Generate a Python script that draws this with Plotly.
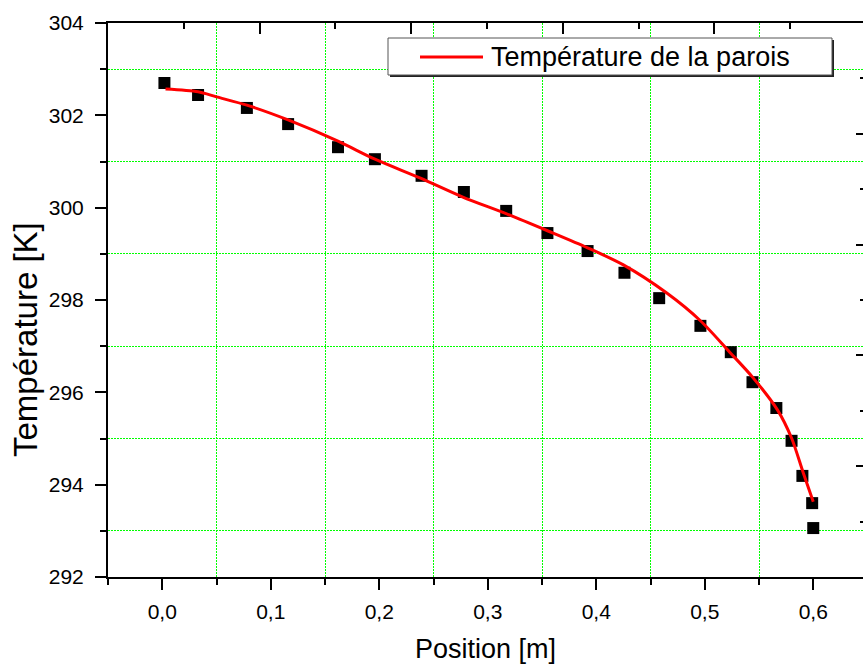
import plotly.graph_objects as go

# Measured wall temperature (squares)
pos_mesure = [0.002, 0.033, 0.078, 0.116, 0.162, 0.196, 0.239, 0.278, 0.317, 0.355,
              0.392, 0.426, 0.458, 0.496, 0.524, 0.544, 0.566, 0.580, 0.590, 0.599, 0.600]
temp_mesure = [302.70, 302.44, 302.16, 301.81, 301.31, 301.05, 300.69, 300.34, 299.93, 299.45,
               299.06, 298.59, 298.04, 297.44, 296.87, 296.22, 295.66, 294.95, 294.19, 293.60, 293.06]

# Computed wall temperature (red curve)
pos_paroi = [0.003, 0.033, 0.050, 0.078, 0.116, 0.162, 0.196, 0.238, 0.277, 0.318, 0.355,
             0.392, 0.425, 0.465, 0.496, 0.523, 0.544, 0.567, 0.580, 0.5906, 0.600]
temp_paroi = [302.57, 302.51, 302.40, 302.22, 301.90, 301.44, 301.05, 300.64, 300.23, 299.86, 299.50,
              299.13, 298.76, 298.15, 297.55, 296.87, 296.33, 295.62, 295.01, 294.27, 293.63]

legend_label = "Température de la parois"
x_title = "Position [m]"
y_title = "Température [K]"

W, H = 863, 664
ML, MR, MT, MB = 108, 0, 23, 87
PW, PH = W - ML - MR, H - MT - MB


def px(xp):
    return (xp - ML) / PW


def py(yp):
    return (H - MB - yp) / PH


FONT = "Liberation Sans, Arial, sans-serif"
GRID = "rgb(0,255,0)"
GRID_DASH = "2px,1px"

fig = go.Figure()

fig.add_trace(go.Scatter(
    x=pos_mesure, y=temp_mesure, mode="markers",
    marker=dict(symbol="square", size=12, color="black", line=dict(width=0)),
    showlegend=False,
))
fig.add_trace(go.Scatter(
    x=pos_paroi, y=temp_paroi, mode="lines",
    line=dict(color="#ff0000", width=3, shape="spline", smoothing=0.8),
    name=legend_label, showlegend=False,
))
# empty trace so the top/right frame axes get drawn
fig.add_trace(go.Scatter(x=[], y=[], xaxis="x2", yaxis="y2", showlegend=False))

axis_common = dict(
    showline=True, linecolor="black", linewidth=2,
    tickcolor="black", tickwidth=2, zeroline=False, showgrid=False,
)

fig.update_layout(
    width=W, height=H,
    margin=dict(l=ML, r=MR, t=MT, b=MB, pad=0),
    paper_bgcolor="white", plot_bgcolor="white",
    separators=", ",
    font=dict(family=FONT, color="black"),
    xaxis=dict(
        **axis_common,
        range=[-0.05, -0.05 + PW / 1085.0],
        tickmode="linear", tick0=0, dtick=0.1, tickformat=".1f",
        ticks="outside", ticklen=11,
        tickfont=dict(size=21, family=FONT),
        ticklabelstandoff=4,
        minor=dict(tick0=0.05, dtick=0.05, ticks="outside", ticklen=6,
                   tickwidth=2, tickcolor="black",
                   showgrid=True, gridcolor=GRID, griddash=GRID_DASH, gridwidth=1),
        title=dict(text=x_title, font=dict(size=27, family=FONT), standoff=18),
    ),
    yaxis=dict(
        **axis_common,
        range=[292, 304],
        tickmode="linear", tick0=292, dtick=2,
        ticks="outside", ticklen=11,
        tickfont=dict(size=21, family=FONT),
        ticklabelstandoff=7,
        minor=dict(tick0=293, dtick=1, ticks="outside", ticklen=6,
                   tickwidth=2, tickcolor="black",
                   showgrid=True, gridcolor=GRID, griddash=GRID_DASH, gridwidth=1),
    ),
    xaxis2=dict(
        overlaying="x", side="top", anchor="y",
        showline=True, linecolor="black", linewidth=2,
        range=[0, 5 * PW / 758.0], tickmode="linear", tick0=0, dtick=1,
        ticks="inside", ticklen=11, tickwidth=2, tickcolor="black",
        showticklabels=False, showgrid=False, zeroline=False,
        minor=dict(dtick=0.5, ticks="inside", ticklen=6, tickwidth=2,
                   tickcolor="black", showgrid=False),
    ),
    yaxis2=dict(
        overlaying="y", side="right", anchor="x",
        showline=False,
        range=[0, 5], tickmode="linear", tick0=0, dtick=1,
        ticks="inside", ticklen=7, tickwidth=2, tickcolor="black",
        showticklabels=False, showgrid=False, zeroline=False,
        minor=dict(dtick=0.5, ticks="inside", ticklen=3, tickwidth=2,
                   tickcolor="black", showgrid=False),
    ),
)

# vertical axis title, placed slightly below the plot centre
fig.add_annotation(xref="paper", yref="paper", x=px(25), y=py(340),
                   xanchor="center", yanchor="middle", showarrow=False,
                   textangle=-90, text=y_title,
                   font=dict(size=33, family=FONT, color="black"))

# legend box with drop shadow
box = dict(x0=px(388), x1=px(832), y0=py(75), y1=py(38))
fig.add_shape(type="rect", xref="paper", yref="paper",
              x0=box["x0"] + 2 / PW, x1=box["x1"] + 2 / PW,
              y0=box["y0"] - 2 / PH, y1=box["y1"] - 2 / PH,
              line=dict(width=0), fillcolor="#222222", layer="above")
fig.add_shape(type="rect", xref="paper", yref="paper", **box,
              line=dict(color="#555555", width=1), fillcolor="white", layer="above")
fig.add_shape(type="line", xref="paper", yref="paper",
              x0=px(420), x1=px(483), y0=py(57), y1=py(57),
              line=dict(color="#ff0000", width=3), layer="above")
fig.add_annotation(xref="paper", yref="paper", x=px(489), y=py(57),
                   xanchor="left", yanchor="middle", showarrow=False,
                   text=legend_label, font=dict(size=27, family=FONT, color="black"))

fig.write_html("out.html")
